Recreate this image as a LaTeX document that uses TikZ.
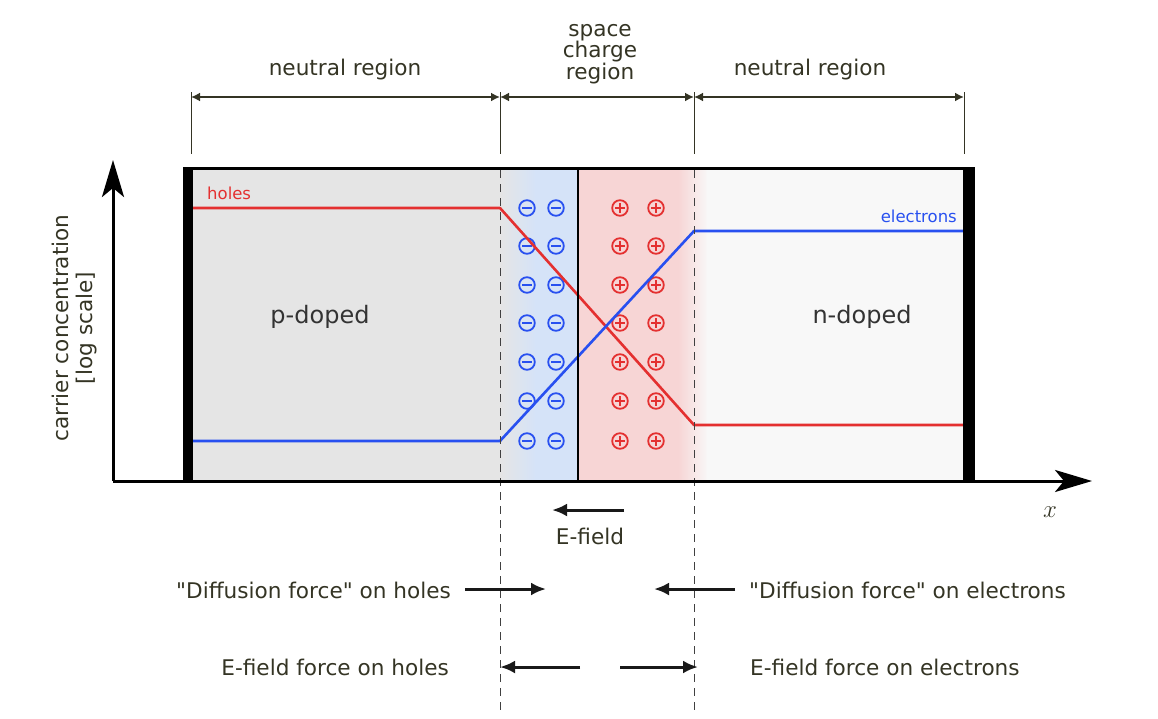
\documentclass[tikz,border=0pt]{standalone}
\usepackage{fontspec}
\setmainfont{DejaVu Sans}[Ligatures=TeXOff]
\usetikzlibrary{arrows.meta, positioning}
\usepackage{xcolor}
\definecolor{holecolor}{RGB}{228,48,48}
\definecolor{eleccolor}{RGB}{40,80,240}
\definecolor{labelcolor}{RGB}{52,52,36}
\definecolor{pgray}{RGB}{229,229,229}
\definecolor{ngray}{RGB}{248,248,248}
\definecolor{depblue}{RGB}{213,227,248}
\definecolor{deppink}{RGB}{247,213,213}
\tikzset{
  lbl/.style     = {font=\fontsize{21.6}{24}\selectfont, text=labelcolor, inner sep=0pt},
  doped/.style   = {font=\fontsize{24}{28}\selectfont, text=black!80, inner sep=0pt},
  carrier/.style = {font=\fontsize{16.5}{18}\selectfont, inner sep=0pt},
  conc/.style    = {line width=2.6pt, line join=round},
  ion/.style     = {line width=1.8pt},
  span/.style    = {{Latex[length=9pt,width=9pt]}-{Latex[length=9pt,width=9pt]},
                    line width=1.8pt, draw=labelcolor},
  force/.style   = {-{Latex[length=15pt,width=13pt]}, line width=3pt, draw=black!90},
  axis/.style    = {-{Stealth[length=37pt,width=22pt,inset=9pt]}, line width=3pt},
  bound/.style   = {dash pattern=on 8pt off 6pt, line width=1pt, draw=black!75},
}
\begin{document}
\begin{tikzpicture}[x=1pt, y=-1pt]
  \useasboundingbox (0,0) rectangle (1158,718);
  % doping regions
  \fill[pgray] (193,168) rectangle (500,481);
  \shade[left color=pgray, right color=depblue] (500,168) rectangle (536,481);
  \fill[depblue] (535,168) rectangle (578,481);
  \fill[deppink] (578,168) rectangle (679,481);
  \shade[left color=deppink, right color=ngray] (678,168) rectangle (708,481);
  \fill[ngray] (707,168) rectangle (963,481);
  % fixed charges
  \foreach \y in {208,246,285,323,362,401,441} {
    \foreach \x in {527,556}
      \draw[ion, eleccolor] (\x,\y) circle[radius=7.8pt] (\x-4.8,\y) -- (\x+4.8,\y);
    \foreach \x in {620,656}
      \draw[ion, holecolor] (\x,\y) circle[radius=7.8pt]
        (\x-4.8,\y) -- (\x+4.8,\y) (\x,\y-4.8) -- (\x,\y+4.8);
  }
  % carrier concentrations
  \draw[conc, holecolor] (193,208) -- (500,208) -- (694,425) -- (963,425);
  \draw[conc, eleccolor] (193,441) -- (500,441) -- (694,231) -- (963,231);
  \node[carrier, text=holecolor, anchor=base west] (holes) at (207,199) {holes};
  \node[carrier, text=eleccolor, anchor=base east] (electrons) at (957,222) {electrons};
  % junction and region boundaries
  \draw[line width=2pt] (578,168) -- (578,481);
  \foreach \x in {500,694}
    \draw[bound] (\x,170) -- (\x,712);
  % sample
  \draw[line width=3pt] (183,168) -- (975,168);
  \fill (183,166.5) rectangle (193,482.5);
  \fill (963,166.5) rectangle (975,482.5);
  \node[doped] (pdoped) at (320,317) {p-doped};
  \node[doped] (ndoped) at (862,317) {n-doped};
  % axes
  \coordinate (origin) at (113,481);
  \coordinate (ytip) at (113,160);
  \coordinate (xtip) at (1092,481);
  \draw[axis] (origin) -- (ytip);
  \draw[axis] (origin) -- (xtip);
  \node[font=\fontsize{24}{28}\selectfont, text=labelcolor] (xlabel) at (1050,512) {$x$};
  \node[lbl, rotate=90, align=center] (ylabel) at (75,328)
    {carrier concentration\\{}[log scale]};
  % region spans
  \foreach \x in {191,500,694,964}
    \draw[labelcolor, line width=0.8pt] (\x,92) -- (\x,154);
  \coordinate (s1) at (191,97);
  \coordinate (s2) at (500,97);
  \coordinate (s3) at (694,97);
  \coordinate (s4) at (964,97);
  \draw[span] (s1) -- (s2);
  \draw[span] (s2) -- (s3);
  \draw[span] (s3) -- (s4);
  \node[lbl] (neutralp) at (345,70) {neutral region};
  \node[lbl, align=center, font=\fontsize{21.6}{21.5}\selectfont] (scr) at (600,54)
    {space\\charge\\region};
  \node[lbl] (neutraln) at (810,70) {neutral region};
  % field and forces
  \coordinate (ef1) at (624,510);
  \coordinate (ef2) at (552,510);
  \draw[force] (ef1) -- (ef2);
  \node[lbl] (efield) at (590,536) {E-field};
  \node[lbl, anchor=east] (difh) at (451,590) {"Diffusion force" on holes};
  \node[lbl, anchor=west] (dife) at (749,590) {"Diffusion force" on electrons};
  \coordinate (dh1) at (465,589);
  \coordinate (dh2) at (546,589);
  \coordinate (de1) at (735,589);
  \coordinate (de2) at (654,589);
  \draw[force] (dh1) -- (dh2);
  \draw[force] (de1) -- (de2);
  \node[lbl, anchor=east] (efh) at (449,667) {E-field force on holes};
  \node[lbl, anchor=west] (efe) at (750,667) {E-field force on electrons};
  \coordinate (eh1) at (580,667);
  \coordinate (eh2) at (500,667);
  \coordinate (ee1) at (620,667);
  \coordinate (ee2) at (698,667);
  \draw[force] (eh1) -- (eh2);
  \draw[force] (ee1) -- (ee2);
\end{tikzpicture}
\end{document}
